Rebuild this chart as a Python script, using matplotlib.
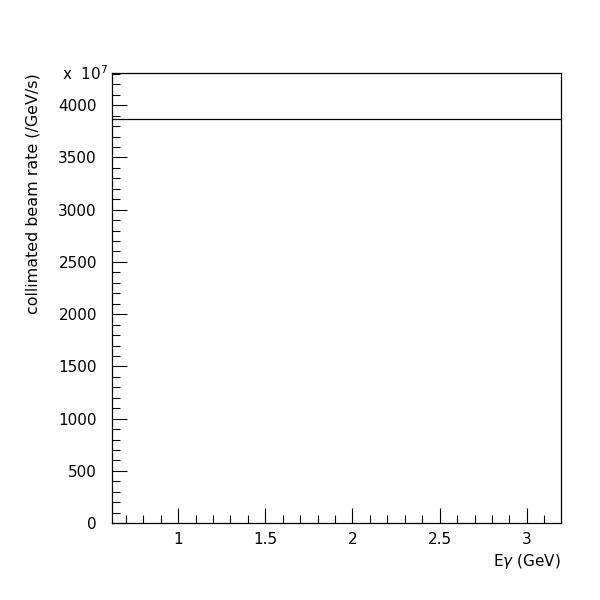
import matplotlib
matplotlib.use("Agg")
import matplotlib.pyplot as plt
from matplotlib.ticker import MultipleLocator, FuncFormatter

plt.rcParams['font.family'] = ['DejaVu Sans']

# data: collimated beam rate (units of 1e7 /GeV/s) vs photon energy
energy = [0.62, 3.2]
rate = [3865, 3865]
xticks = [1, 1.5, 2, 2.5, 3]
yticks = [0, 500, 1000, 1500, 2000, 2500, 3000, 3500, 4000]

fig = plt.figure(figsize=(6, 6), dpi=100)
ax = fig.add_axes([0.187, 0.128, 0.748, 0.75])
ax.plot(energy, rate, color='black', lw=0.9, drawstyle='steps-post')
ax.set_xlim(0.622, 3.196)
ax.set_ylim(0, 4306)
ax.set_xticks(xticks)
ax.set_yticks(yticks)
ax.xaxis.set_minor_locator(MultipleLocator(0.1))
ax.yaxis.set_minor_locator(MultipleLocator(100))
ax.xaxis.set_major_formatter(FuncFormatter(lambda v, p: ('%g' % v)))
ax.tick_params(which='both', direction='in', top=False, right=False, width=0.8, labelsize=11)
ax.tick_params(which='major', length=11)
ax.tick_params(which='minor', length=5.5)
ax.tick_params(axis='y', pad=11)
ax.tick_params(axis='x', pad=6)
for s in ax.spines.values():
    s.set_linewidth(0.9)
ax.set_ylabel('collimated beam rate (/GeV/s)', fontsize=11.4, loc='top', labelpad=13)
ax.set_xlabel(r'E$\gamma$ (GeV)', fontsize=11, loc='right', labelpad=4)
ax.text(-0.009, 0.984, r'x  10$^7$', transform=ax.transAxes, ha='right', va='baseline', fontsize=11)
fig.savefig('out.png', dpi=100, facecolor='white')
